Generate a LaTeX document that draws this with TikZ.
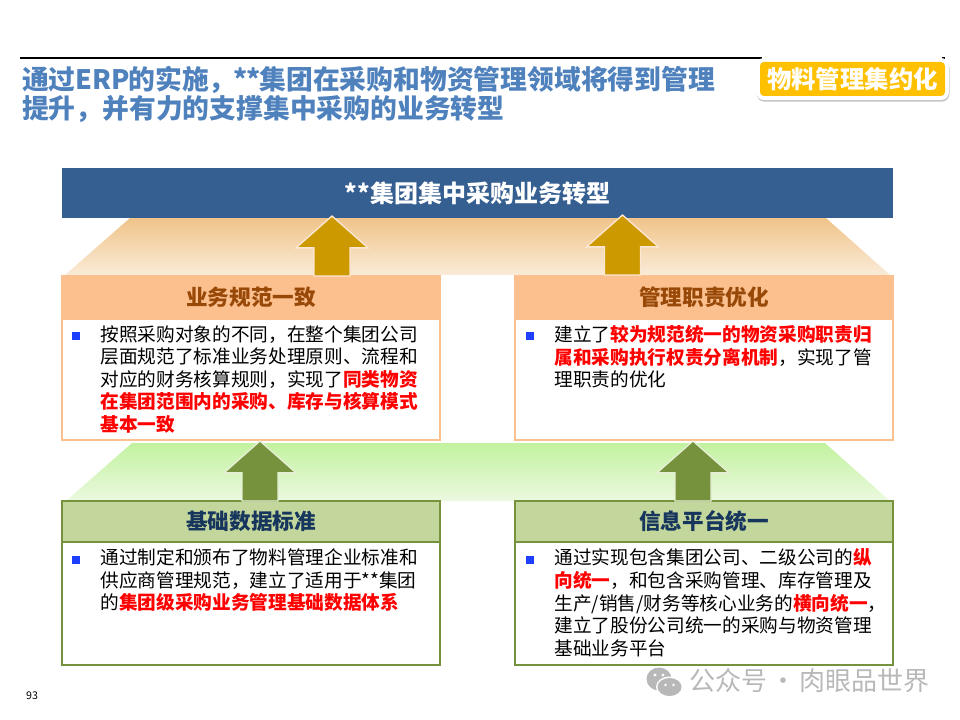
\documentclass[tikz,border=0pt]{standalone}
\usepackage{fontspec}
\setmainfont{Noto Sans CJK SC}
\usepackage{tikz}
\usetikzlibrary{positioning, shapes.arrows, shadows}
\definecolor{barblue}{HTML}{365F91}
\definecolor{titleblue}{HTML}{4F81BD}
\definecolor{headnavy}{HTML}{17365D}
\definecolor{headbrown}{HTML}{984807}
\definecolor{orgfill}{HTML}{FBC08E}
\definecolor{orgtop}{HTML}{F0C48A}
\definecolor{orgbot}{HTML}{FAEBD8}
\definecolor{grnfill}{HTML}{C3D69B}
\definecolor{grnline}{HTML}{76923C}
\definecolor{grntop}{HTML}{C2F29F}
\definecolor{grnbot}{HTML}{ECF9E0}
\definecolor{goldfill}{HTML}{CC9900}
\definecolor{badgefill}{HTML}{FFC000}
\definecolor{bulletblue}{HTML}{1F3FFF}
\definecolor{markgrey}{HTML}{B8B8B8}
\newcommand{\hlred}[1]{{\bfseries\color{red}#1}}

\begin{document}
\begin{tikzpicture}[
        x=0.75pt, y=-0.75pt,
        node distance=0pt,
        every node/.style={outer sep=0pt},
        headbox/.style={draw, line width=1.5pt, minimum width=283.5pt, inner sep=0pt, font=\fontsize{16.2}{18}\selectfont\bfseries},
        orghead/.style={headbox, draw=orgfill, fill=orgfill, text=headbrown, minimum height=32.25pt},
        grnhead/.style={headbox, draw=grnline, fill=grnfill, text=headnavy, minimum height=30.75pt},
        orgbody/.style={draw=orgfill, line width=1.5pt, minimum width=283.5pt, minimum height=90.75pt, fill=white},
        grnbody/.style={draw=grnline, line width=1.5pt, minimum width=283.5pt, minimum height=92.25pt, fill=white},
        bodytext/.style={anchor=north west, align=left, inner sep=0pt, font=\fontsize{14}{16.9}\selectfont},
        bullet/.style={fill=bulletblue, minimum size=6pt, inner sep=0pt},
        blockarrow/.style={single arrow, shape border rotate=90, anchor=tip, inner sep=13pt, line width=1pt,
            minimum height=45pt, single arrow head extend=13.5pt,
            single arrow tip angle=97, single arrow head indent=0pt},
        goldarrow/.style={blockarrow, fill=goldfill, draw=orgfill!40},
        grnarrow/.style={blockarrow, fill=grnline, draw=grnfill!40}
    ]
    \useasboundingbox (0,0) rectangle (960,720);

    % title
    \draw[line width=0.9pt] (20,58) -- (762,58);
    \draw[line width=0.9pt] (942,58) -- (945,58);
    \node[anchor=north west, align=left, inner sep=0pt, text=titleblue, font=\fontsize{20.1}{21.8}\selectfont\bfseries] (title) at (22,66.5)
        {通过ERP\kern-1pt的实施，\kern-2pt*\kern-0.5pt*\kern-1pt集团在采购和物资管理领域将得到管理\\提升，并有力的支撑集中采购的业务转型};
    \node[fill=white, rounded corners=6pt, minimum width=144.75pt, minimum height=31.5pt, inner sep=0pt,
        drop shadow={shadow xshift=0.4pt, shadow yshift=-1.3pt, opacity=0.45}] (badgeback) at (852.5,79) {};
    \node[fill=badgefill, rounded corners=3pt, minimum width=138.75pt, minimum height=25.5pt, inner sep=0pt,
        text=white, font=\fontsize{18.3}{20}\selectfont\bfseries] (badge) at (badgeback.center) {物料管理集约化};

    % gradient bands
    \shade[top color=orgtop, bottom color=orgbot] (130,218) -- (826,218) -- (890,275) -- (65,275) -- cycle;
    \shade[top color=grntop, bottom color=grnbot] (132,443) -- (825,443) -- (890,501) -- (66,501) -- cycle;

    \node[fill=barblue, minimum width=623pt, minimum height=37.5pt, inner sep=0pt, text=white, font=\fontsize{18}{20}\selectfont\bfseries] (top) at (477.5,193) {**集团集中采购业务转型};

    % upper boxes
    \node[orghead, anchor=north west] (headl) at (62,276) {业务规范一致};
    \node[orgbody, below=of headl] (bodyl) {};
    \node[orghead, anchor=north west] (headr) at (515,276) {管理职责优化};
    \node[orgbody, below=of headr] (bodyr) {};
    % lower boxes
    \node[grnhead, anchor=north west] (headll) at (62,501) {基础数据标准};
    \node[grnbody, below=of headll] (bodyll) {};
    \node[grnhead, anchor=north west] (headlr) at (515,501) {信息平台统一};
    \node[grnbody, below=of headlr] (bodylr) {};

    % texts
    \node[bullet] (bul) at (76,336) {};
    \node[bodytext] (textl) at (100.5,325.5) {按照采购对象的不同，在整个集团公司\\层面规范了标准业务处理原则、流程和\\对应的财务核算规则，实现了\hlred{同类物资}\\\hlred{在集团范围内的采购、库存与核算模式}\\\hlred{基本一致}};
    \node[bullet] (bur) at (529.5,336) {};
    \node[bodytext] (textr) at (554.5,325.5) {建立了\hlred{较为规范统一的物资采购职责归}\\\hlred{属和采购执行权责分离机制}，实现了管\\理职责的优化};
    \node[bullet] (bull) at (76,560) {};
    \node[bodytext] (textll) at (100.5,549) {通过制定和颁布了物料管理企业标准和\\供应商管理规范，建立了适用于**集团\\的\hlred{集团级采购业务管理基础数据体系}};
    \node[bullet] (bulr) at (529.5,560) {};
    \node[bodytext] (textlr) at (554.5,549) {通过实现包含集团公司、二级公司的\hlred{纵}\\\hlred{向统一}，和包含采购管理、库存管理及\\生产/销售/财务等核心业务的\hlred{横向统一}，\\建立了股份公司统一的采购与物资管理\\基础业务平台};

    % arrows
    \node[goldarrow] (upl) at (332,216) {};
    \node[goldarrow] (upr) at (622.5,215) {};
    \node[grnarrow] (upll) at (260,441) {};
    \node[grnarrow] (uplr) at (693,441) {};

    % page number and mark
    \node[font=\fontsize{8}{10}\selectfont] (pageno) at (32,696) {93};
    \fill[markgrey] (659,679) ellipse (12.5 and 11.5);
    \fill[white] (669.5,687) ellipse (13.5 and 10.5);
    \fill[markgrey] (669.5,687) ellipse (12 and 9);
    \fill[white] (655,675) circle (1.7) (663,675) circle (1.7) (665.5,685) circle (1.4) (673.5,685) circle (1.4);
    \node[anchor=west, inner sep=0pt, text=markgrey, font=\fontsize{19.5}{22}\selectfont] (mark) at (689,681) {公众号\hspace{2.5pt}·\hspace{2.5pt}肉眼品世界};
\end{tikzpicture}
\end{document}
